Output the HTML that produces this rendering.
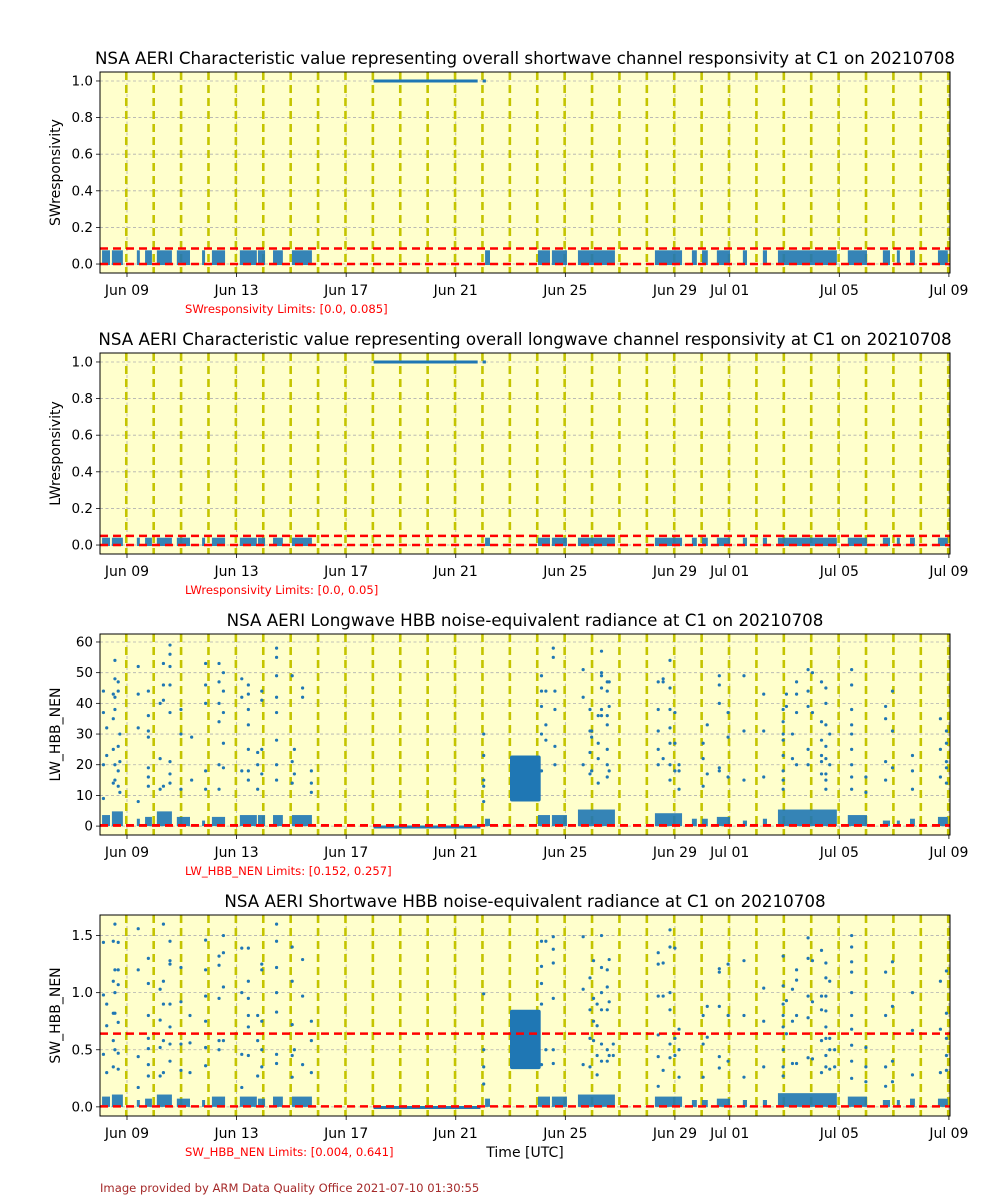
<!DOCTYPE html>
<html><head><meta charset="utf-8"><style>
html,body{margin:0;padding:0;background:#fff;}
svg{display:block;font-family:"DejaVu Sans","Liberation Sans",sans-serif;}
</style></head>
<body>
<svg id="chart" width="1000" height="1200" viewBox="0 0 1000 1200" xmlns="http://www.w3.org/2000/svg"></svg>
<script>
// ---- data ----
const xTickDays = [1,5,9,13,17,21,23,27,31];
const xTickLabels = ['Jun 09','Jun 13','Jun 17','Jun 21','Jun 25','Jun 29','Jul 01','Jul 05','Jul 09'];
const dayLines = [1,2,3,4,5,6,7,8,9,10,11,12,13,14,15,16,17,18,19,20,21,22,23,24,25,26,27,28,29,30,31];
const presence = [[0.09,0.38],[0.45,0.85],[1.36,1.47],[1.66,1.91],[2.09,2.64],[2.82,3.30],[3.74,3.85],[4.10,4.58],[5.12,5.74],[5.78,6.04],[6.33,6.69],[7.02,7.75],[14.07,14.25],[16.0,16.44],[16.51,17.06],[17.46,18.81],[20.27,21.26],[21.62,21.80],[21.99,22.20],[22.53,23.01],[23.48,23.63],[24.21,24.36],[24.76,26.91],[27.31,28.01],[28.59,28.85],[29.10,29.21],[29.58,29.76],[30.60,30.96]];
const swRespMax = [0.075,0.075,0.075,0.075,0.075,0.075,0.075,0.075,0.075,0.075,0.075,0.075,0.075,0.075,0.075,0.075,0.075,0.075,0.075,0.075,0.075,0.075,0.075,0.075,0.075,0.075,0.075,0.075];
const lwRespMax = [0.04,0.04,0.04,0.04,0.04,0.04,0.04,0.04,0.04,0.04,0.04,0.04,0.04,0.04,0.04,0.04,0.04,0.04,0.04,0.04,0.04,0.04,0.04,0.04,0.04,0.04,0.04,0.04];
const lwBaseMax = [6,8,4,5,8,5,3,5,6,6,6,6,4,6,6,9,7,4,4,5,3,4,9,6,3,3,4,5];
const swBaseMax = [0.15,0.18,0.1,0.12,0.18,0.12,0.1,0.15,0.15,0.12,0.15,0.15,0.12,0.15,0.15,0.18,0.15,0.1,0.1,0.12,0.1,0.1,0.2,0.15,0.1,0.1,0.12,0.12];
const respFlat = [[10.0,13.8,1.0],[13.98,14.1,1.0]];
const lwFlat = [[10.0,13.9,-0.3]];
const swFlat = [[10.0,13.9,-0.006]];
const lwBlob = [[14.98,16.1,8,23]];
const swBlob = [[14.98,16.1,0.33,0.85]];
const lwCols = [
[0.14,[44,37,20,9]],[0.26,[32,23]],[0.5,[43,35,25,14]],[0.56,[54,48,42,38,20,15]],[0.68,[47,44,26,18,13]],[0.74,[30,21,11]],
[1.41,[52,43,32,8]],[1.78,[44,36,29,31,19,16,13]],[2.21,[40,22,12]],[2.33,[53,46,41,13]],[2.57,[59,56,52,46,37,21,17,14]],
[2.97,[38,30,12]],[3.36,[29,15]],[3.87,[53,46,40,18,12]],[4.36,[53,47,40,34,20,12]],[4.52,[50,44,37,27,19]],
[5.19,[48,42,18]],[5.43,[46,43,38,33,25,18,15]],[5.77,[24,20,12]],[5.92,[44,41,25,17]],[6.46,[58,55,49,42,37,28,20,15]],
[7.03,[49,21,14]],[7.11,[25,17]],[7.41,[45,42]],[7.73,[18,14,11]],[14.02,[30,23,15,13,8]],
[16.13,[49,44,39,30,18]],[16.29,[44,33,28]],[16.56,[58,55]],[16.62,[44,38,26,20]],[17.65,[51,42,20]],[17.9,[38,31,24,17]],
[17.96,[31,29,18]],[18.2,[36,27,22,14]],[18.32,[57,50,49,45,38,36]],[18.53,[47,44,36,33,25,20,16]],[18.6,[47,39,18]],
[20.39,[47,38,31,25,20]],[20.57,[48,47,22]],[20.82,[54,45,38,32,27,20,15]],[21.0,[37,27,18]],[21.15,[20,18,12]],
[22.03,[27,22,13]],[22.18,[33,17]],[22.62,[49,46,40,19,18]],[22.94,[37,29,16]],[23.52,[49,31,15]],[24.24,[43,31,16]],
[24.95,[38,34,30,28,23,18,15,12]],[25.07,[43,39]],[25.29,[30,22]],[25.44,[47,43,37,20]],[25.86,[51,44,39,25,20]],
[26.02,[50,37]],[26.35,[47,34,28,23,21,17]],[26.51,[45,40,33,26,22,17,15,12]],[26.65,[30,20]],
[27.45,[51,46,38,33,30,25,20,16,12]],[27.97,[16,11]],[28.69,[39,35,21,15]],[28.94,[44,31,19]],[29.67,[23,18,12]],
[30.69,[35,25,16]],[30.91,[31,27,21,19,14]]
];
const swCols = [
[0.14,[1.44,0.98,0.46]],[0.26,[0.9,0.71,0.3]],[0.5,[1.45,1.1,0.82,0.58,0.35]],[0.56,[1.6,1.2,1.0,0.82,0.5]],[0.68,[1.44,1.2,1.07,0.74,0.47,0.33]],
[1.41,[1.56,1.2,0.44,0.17]],[1.78,[1.3,1.08,0.8,0.6,0.51,0.37,0.27]],[2.21,[1.03,0.76,0.52,0.27]],[2.33,[1.6,1.1,0.9,0.58,0.3]],
[2.57,[1.45,1.28,1.25,0.9,0.7,0.55,0.4]],[2.97,[1.22,0.92,0.55,0.32]],[3.3,[0.8,0.56,0.3]],[3.87,[1.46,1.2,0.97,0.75,0.52,0.36]],
[4.36,[1.32,1.24,0.95,0.58,0.5]],[4.52,[1.5,1.35,1.05,0.58]],[5.19,[1.39,1.0,0.46,0.17]],[5.43,[1.39,1.1,0.95,0.8,0.7,0.45]],
[5.77,[0.8,0.58,0.27]],[5.92,[1.25,1.2,0.75,0.5,0.35]],[6.46,[1.6,1.45,1.22,1.0,0.83,0.46,0.38]],[7.03,[1.4,1.1,0.72,0.45,0.26]],
[7.11,[0.5]],[7.41,[1.29,0.97,0.37]],[7.73,[0.75,0.58,0.3]],[14.02,[0.99,0.5,0.35,0.2]],
[16.13,[1.45,1.23,1.08,0.9,0.37]],[16.29,[1.45,0.5]],[16.56,[1.49,1.38,1.26,0.95,0.5,0.38]],[17.65,[1.49,1.03,0.37]],
[17.9,[1.13,0.85,0.6,0.35]],[18.03,[1.28,0.95,0.75,0.58]],[18.16,[0.9,0.71,0.45,0.28]],[18.32,[1.5,1.22,1.0,0.85,0.55,0.4]],
[18.53,[1.2,1.05,0.85,0.5,0.4]],[18.6,[1.29,0.92,0.45]],[18.75,[0.55,0.45]],[20.39,[1.35,1.25,0.97,0.63,0.44,0.18]],
[20.57,[1.26,0.97,0.32]],[20.82,[1.55,1.4,1.0,0.85,0.55,0.43]],[21.0,[1.39,0.6,0.45]],[21.15,[0.68,0.5,0.26]],
[22.03,[0.8,0.55,0.26]],[22.18,[0.88,0.61]],[22.62,[1.21,1.18,0.88,0.44,0.34]],[22.94,[1.25,0.8,0.4]],[23.52,[1.28,0.8,0.26]],
[24.24,[1.04,0.75,0.35]],[24.95,[1.32,1.06,0.9,0.8,0.7,0.5,0.35,0.27]],[25.07,[0.93,0.64]],[25.29,[1.03,0.75,0.38]],
[25.44,[1.2,1.11,0.8,0.38]],[25.86,[1.48,1.3,0.97,0.78,0.43]],[26.02,[1.28,0.92,0.42]],[26.35,[1.37,0.97,0.85,0.58,0.3]],
[26.51,[1.26,1.13,0.97,0.84,0.7,0.6,0.45,0.35]],[26.65,[1.1,0.6,0.5,0.33]],[26.83,[0.5,0.35]],
[27.45,[1.5,1.4,1.27,1.18,1.0,0.8,0.68,0.54,0.4,0.25]],[27.97,[0.52,0.35,0.22]],[28.69,[1.18,0.8,0.35,0.18]],
[28.94,[1.27,0.88,0.4,0.22]],[29.67,[1.0,0.67,0.28]],[30.69,[1.1,0.68,0.3]],[30.91,[1.19,0.82,0.6,0.45,0.32]]
];
const titles = ['NSA AERI Characteristic value representing overall shortwave channel responsivity at C1 on 20210708',
 'NSA AERI Characteristic value representing overall longwave channel responsivity at C1 on 20210708',
 'NSA AERI Longwave HBB noise-equivalent radiance at C1 on 20210708',
 'NSA AERI Shortwave HBB noise-equivalent radiance at C1 on 20210708'];
const yLabels = ['SWresponsivity','LWresponsivity','LW_HBB_NEN','SW_HBB_NEN'];
const limitTexts = ['SWresponsivity Limits: [0.0, 0.085]','LWresponsivity Limits: [0.0, 0.05]','LW_HBB_NEN Limits: [0.152, 0.257]','SW_HBB_NEN Limits: [0.004, 0.641]'];
const limitLo = [0.0, 0.0, 0.152, 0.004];
const limitHi = [0.085, 0.05, 0.257, 0.641];
const yMin = [-0.049,-0.049,-2.9,-0.08];
const yMax = [1.049,1.049,62.6,1.68];
const yTicks1 = [0.0,0.2,0.4,0.6,0.8,1.0];
const yTickLabels1 = ['0.0','0.2','0.4','0.6','0.8','1.0'];
const yTicks3 = [0,10,20,30,40,50,60];
const yTickLabels3 = ['0','10','20','30','40','50','60'];
const yTicks4 = [0.0,0.5,1.0,1.5];
const yTickLabels4 = ['0.0','0.5','1.0','1.5'];

// ---- layout ----
const NS='http://www.w3.org/2000/svg';
const svg=document.getElementById('chart');
const AX_L=100, AX_R=950, AX_H=201;
const T0=0.015, T1=31.04;
function xs(t){return AX_L+(t-T0)/(T1-T0)*(AX_R-AX_L);}
function mk(tag,attrs,parent){const e=document.createElementNS(NS,tag);for(const k in attrs)e.setAttribute(k,attrs[k]);(parent||svg).appendChild(e);return e;}
const BLUE='#1f77b4';

for(let p=0;p<4;p++){
  const top=72+281*p, bot=top+AX_H;
  const ys=v=>bot-(v-yMin[p])/(yMax[p]-yMin[p])*AX_H;
  const g=mk('g',{});
  
  
  const clipId='clip'+p;
  const cp=mk('clipPath',{id:clipId},g);
  mk('rect',{x:AX_L,y:top,width:AX_R-AX_L,height:AX_H},cp);
  const bg=mk('rect',{x:AX_L,y:top,width:AX_R-AX_L,height:AX_H,fill:'#ffffcc'},g);
  
  
  const inner=mk('g',{'clip-path':'url(#'+clipId+')'},g);
  const yt = p<2?yTicks1:(p===2?yTicks3:yTicks4);
  const ytl = p<2?yTickLabels1:(p===2?yTickLabels3:yTickLabels4);
  yt.forEach(v=>{const l=mk('line',{x1:AX_L,x2:AX_R,y1:ys(v),y2:ys(v),stroke:'#b0b0b0','stroke-width':0.8,'stroke-dasharray':'3,2.5'},inner);
    });
  xTickDays.forEach(d=>{const l=mk('line',{x1:xs(d),x2:xs(d),y1:top,y2:bot,stroke:'#b0b0b0','stroke-width':0.8,'stroke-dasharray':'3,2.5'},inner);
    });
  dayLines.forEach(d=>{const l=mk('line',{x1:xs(d)-0.7,x2:xs(d)-0.7,y1:top,y2:bot,stroke:'#c4c400','stroke-width':2.6,'stroke-dasharray':'8,5'},inner);
    });
  if(p<2){
    const mx = p===0?swRespMax:lwRespMax;
    presence.forEach((iv,i)=>{const r=mk('rect',{x:xs(iv[0]),y:ys(mx[i]),width:Math.max(1.5,xs(iv[1])-xs(iv[0])),height:ys(0)-ys(mx[i])+1,fill:BLUE,opacity:0.9},inner);
      });
    respFlat.forEach(f=>{const l=mk('line',{x1:xs(f[0]),x2:xs(f[1]),y1:ys(f[2]),y2:ys(f[2]),stroke:BLUE,'stroke-width':3},inner);
      });
  } else {
    const bm = p===2?lwBaseMax:swBaseMax;
    const cols = p===2?lwCols:swCols;
    const blob = p===2?lwBlob:swBlob;
    const flat = p===2?lwFlat:swFlat;
    presence.forEach((iv,i)=>{
      const w=Math.max(1.5,xs(iv[1])-xs(iv[0]));
      const r2=mk('rect',{x:xs(iv[0]),y:ys(bm[i]*0.6),width:w,height:ys(0)-ys(bm[i]*0.6),fill:BLUE,opacity:0.9},inner);
      
    });
    blob.forEach(b=>{const r=mk('rect',{x:xs(b[0]),y:ys(b[3]),width:xs(b[1])-xs(b[0]),height:ys(b[2])-ys(b[3]),fill:BLUE,rx:2},inner);
      });
    flat.forEach(f=>{const l=mk('line',{x1:xs(f[0]),x2:xs(f[1]),y1:ys(f[2]),y2:ys(f[2]),stroke:BLUE,'stroke-width':3},inner);
      });
    cols.forEach(c=>{c[1].forEach(v=>{const pt=mk('circle',{cx:xs(c[0]),cy:ys(v),r:1.6,fill:BLUE},inner);
      });});
  }
  [limitLo[p],limitHi[p]].forEach(v=>{const l=mk('line',{x1:AX_L,x2:AX_R,y1:ys(v),y2:ys(v),stroke:'#ff0000','stroke-width':2.5,'stroke-dasharray':'8,5'},inner);
    });
  const fr=mk('rect',{x:AX_L,y:top,width:AX_R-AX_L,height:AX_H,fill:'none',stroke:'#000','stroke-width':1},g);
  
  yt.forEach((v,i)=>{mk('line',{x1:AX_L-4,x2:AX_L,y1:ys(v),y2:ys(v),stroke:'#000','stroke-width':0.8},g);
    const t=mk('text',{x:AX_L-7,y:ys(v)+4.5,'text-anchor':'end','font-size':13.5,fill:'#000'},g);t.textContent=ytl[i];
    });
  xTickDays.forEach((d,i)=>{mk('line',{x1:xs(d),x2:xs(d),y1:bot,y2:bot+4,stroke:'#000','stroke-width':0.8},g);
    const t=mk('text',{x:xs(d),y:bot+22,'text-anchor':'middle','font-size':14,fill:'#000'},g);t.textContent=xTickLabels[i];
    });
  const ti=mk('text',{x:(AX_L+AX_R)/2,y:top-8,'text-anchor':'middle','font-size':16.7,fill:'#000'},g);ti.textContent=titles[p];
  
  const yl=mk('text',{x:0,y:0,'text-anchor':'middle','font-size':14,fill:'#000',transform:'translate(60,'+(top+AX_H/2)+') rotate(-90)'},g);yl.textContent=yLabels[p];
  
  const lt=mk('text',{x:185,y:bot+40,'font-size':11.6,fill:'#ff0000'},g);lt.textContent=limitTexts[p];
  
}
const xl=mk('text',{x:525,y:1157,'text-anchor':'middle','font-size':14,fill:'#000'});xl.textContent='Time [UTC]';


const ft=mk('text',{x:100,y:1192,'font-size':11.6,fill:'#a52a2a'});ft.textContent='Image provided by ARM Data Quality Office 2021-07-10 01:30:55';


</script>
</body></html>
